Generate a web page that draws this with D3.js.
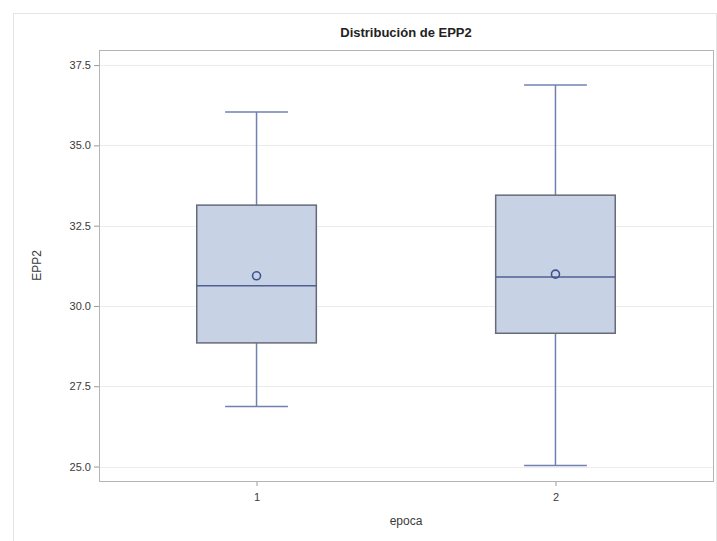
<!DOCTYPE html>
<html>
<head>
<meta charset="utf-8">
<script src="https://cdn.jsdelivr.net/npm/d3@7"></script>
<style>
  html, body { margin: 0; padding: 0; background: #fff; }
  svg { display: block; font-family: "Liberation Sans", Arial, sans-serif; }
</style>
</head>
<body>
<svg id="chart" width="717" height="541"></svg>
<script>
// Summary statistics of EPP2 for each epoca
const categories = ["1", "2"];
const minValues    = [26.87, 25.03];
const q1Values     = [28.85, 29.15];
const medianValues = [30.63, 30.90];
const meanValues   = [30.94, 30.99];
const q3Values     = [33.14, 33.45];
const maxValues    = [36.04, 36.88];
const yTickValues  = [25.0, 27.5, 30.0, 32.5, 35.0, 37.5];

const titleText = "Distribución de EPP2";
const xLabel = "epoca";
const yLabel = "EPP2";

const W = 717, H = 541;
const plot = { left: 99, right: 713, top: 50, bottom: 481 };

const svg = d3.select("#chart");

// outer graph frame
svg.append("rect")
  .attr("x", 13.5).attr("y", 13.5)
  .attr("width", W - 14).attr("height", H)
  .attr("fill", "#fff").attr("stroke", "#e4e4e4").attr("stroke-width", 1);

const x = d3.scalePoint()
  .domain(categories)
  .range([plot.left, plot.right])
  .padding(0.527);

const y = d3.scaleLinear()
  .domain([24.55, 37.97])
  .range([plot.bottom, plot.top]);

// horizontal grid lines
svg.append("g")
  .selectAll("line")
  .data(yTickValues)
  .join("line")
  .attr("x1", plot.left).attr("x2", plot.right)
  .attr("y1", d => Math.round(y(d)) + 0.5)
  .attr("y2", d => Math.round(y(d)) + 0.5)
  .attr("stroke", "#ececec").attr("stroke-width", 1);

// y axis
const yAxis = svg.append("g")
  .attr("transform", `translate(${plot.left},0)`)
  .call(d3.axisLeft(y).tickValues(yTickValues).tickFormat(d3.format(".1f")).tickSize(5).tickPadding(3));
yAxis.select(".domain").remove();
yAxis.selectAll(".tick line").attr("stroke", "#9a9a9a");
yAxis.selectAll(".tick text").attr("fill", "#3a3a3a").style("font-size", "11px");

// x axis
const xAxis = svg.append("g")
  .attr("transform", `translate(0,${plot.bottom})`)
  .call(d3.axisBottom(x).tickSize(5).tickPadding(7));
xAxis.select(".domain").remove();
xAxis.selectAll(".tick line").attr("stroke", "#9a9a9a");
xAxis.selectAll(".tick text").attr("fill", "#3a3a3a").style("font-size", "11px");

// plot frame
svg.append("rect")
  .attr("x", plot.left + 0.5).attr("y", plot.top + 0.5)
  .attr("width", plot.right - plot.left).attr("height", plot.bottom - plot.top)
  .attr("fill", "none").attr("stroke", "#b4b4b4").attr("stroke-width", 1);

const boxW = x.step() * 0.4;
const capW = x.step() * 0.21;
const data = categories.map((c, i) => ({
  c, min: minValues[i], q1: q1Values[i], med: medianValues[i],
  mean: meanValues[i], q3: q3Values[i], max: maxValues[i]
}));

const boxes = svg.append("g").selectAll("g").data(data).join("g");

// whiskers
boxes.append("line")
  .attr("x1", d => x(d.c)).attr("x2", d => x(d.c))
  .attr("y1", d => y(d.max)).attr("y2", d => y(d.q3))
  .attr("stroke", "#7081b0").attr("stroke-width", 1.5);
boxes.append("line")
  .attr("x1", d => x(d.c)).attr("x2", d => x(d.c))
  .attr("y1", d => y(d.q1)).attr("y2", d => y(d.min))
  .attr("stroke", "#7081b0").attr("stroke-width", 1.5);
// caps
boxes.append("line")
  .attr("x1", d => x(d.c) - capW / 2).attr("x2", d => x(d.c) + capW / 2)
  .attr("y1", d => y(d.max)).attr("y2", d => y(d.max))
  .attr("stroke", "#7081b0").attr("stroke-width", 1.5);
boxes.append("line")
  .attr("x1", d => x(d.c) - capW / 2).attr("x2", d => x(d.c) + capW / 2)
  .attr("y1", d => y(d.min)).attr("y2", d => y(d.min))
  .attr("stroke", "#7081b0").attr("stroke-width", 1.5);

// box
boxes.append("rect")
  .attr("x", d => x(d.c) - boxW / 2)
  .attr("y", d => y(d.q3))
  .attr("width", boxW)
  .attr("height", d => y(d.q1) - y(d.q3))
  .attr("fill", "#c8d2e5").attr("stroke", "#666b78").attr("stroke-width", 1.5);

// median
boxes.append("line")
  .attr("x1", d => x(d.c) - boxW / 2).attr("x2", d => x(d.c) + boxW / 2)
  .attr("y1", d => y(d.med)).attr("y2", d => y(d.med))
  .attr("stroke", "#4f5f95").attr("stroke-width", 1.5);

// mean marker
boxes.append("circle")
  .attr("cx", d => x(d.c)).attr("cy", d => y(d.mean))
  .attr("r", 4)
  .attr("fill", "none").attr("stroke", "#3f5190").attr("stroke-width", 1.6);

// title
svg.append("text")
  .attr("x", (plot.left + plot.right) / 2).attr("y", 37)
  .attr("text-anchor", "middle")
  .style("font-size", "13px").style("font-weight", "bold").attr("fill", "#222")
  .text(titleText);

// axis labels
svg.append("text")
  .attr("x", (plot.left + plot.right) / 2).attr("y", 525)
  .attr("text-anchor", "middle")
  .style("font-size", "12px").attr("fill", "#3a3a3a")
  .text(xLabel);

svg.append("text")
  .attr("transform", `translate(41,${(plot.top + plot.bottom) / 2}) rotate(-90)`)
  .attr("text-anchor", "middle")
  .style("font-size", "12px").attr("fill", "#3a3a3a")
  .text(yLabel);
</script>
</body>
</html>
